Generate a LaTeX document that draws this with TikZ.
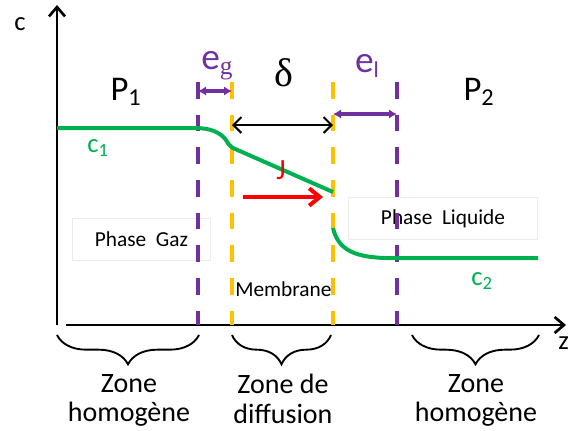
\documentclass[tikz,border=0pt]{standalone}
\usepackage{fontspec}
\setmainfont{Carlito}
\newfontfamily\serifgr{Liberation Serif}
\usetikzlibrary{arrows.meta,decorations.pathreplacing}
\definecolor{mbgreen}{HTML}{00B050}
\definecolor{mbpurple}{HTML}{7030A0}
\definecolor{mborange}{HTML}{FFC000}
\definecolor{mbred}{HTML}{FF0000}

\begin{document}
\begin{tikzpicture}[x=0.75pt, y=-0.75pt, line width=2pt,
  bigtxt/.style={font=\fontsize{20}{22.5}\selectfont},
  zonetxt/.style={font=\fontsize{21}{22}\selectfont, align=center, anchor=north, inner sep=0},
  smalltxt/.style={font=\fontsize{16}{19}\selectfont},
  thicktxt/.style={mbpurple, font=\fontsize{28}{30}\selectfont},
  bound/.style={line width=3pt, dash pattern=on 12.5pt off 12pt},
  film/.style={mbpurple, line width=2.8pt, {Latex[length=6pt, width=7pt]}-{Latex[length=6pt, width=7pt]}},
  zonebrace/.style={line width=1.4pt, decorate,
    decoration={brace, mirror, amplitude=22pt}},
  phasebox/.style={draw=black!8, line width=0.6pt, fill=white}]
  % pixel grid of the figure: x to the right, y downwards.
  % \xg, \xm, \xn, \xl are the four interfaces (gas film, membrane, membrane,
  % liquid film); \ytop is where their dashed lines start.
  \def\xg{198} \def\xm{232} \def\xn{333} \def\xl{397} \def\ytop{82}
  \useasboundingbox (0,0) rectangle (568,430);

  % phase labels sit under everything else
  \node[phasebox, minimum width=104pt, minimum height=32pt, smalltxt]
    (gaz) at (141.5,239.5) {Phase\ \ Gaz};
  \node[phasebox, minimum width=142pt, minimum height=32pt, smalltxt]
    (liq) at (443,218.5) {Phase\ \ Liquide};

  % axes
  \draw[-{Straight Barb[length=7pt, width=12pt]}] (57,325) -- (57,5);
  \draw[-{Straight Barb[length=7pt, width=12pt]}] (66,325) -- (566,325);
  \node[bigtxt] (cax) at (20,24) {c};
  \node[bigtxt, anchor=west, inner sep=0] (zax) at (557,343) {z};

  % interfaces
  \draw[bound, mbpurple] (\xg,\ytop) -- (\xg,325);
  \draw[bound, mborange] (\xm,\ytop) -- (\xm,325);
  \draw[bound, mborange] (\xn,\ytop) -- (\xn,325);
  \draw[bound, mbpurple] (\xl,\ytop) -- (\xl,325);

  % thicknesses
  \draw[film] (\xg,91) -- (\xm,91);
  \draw[{Straight Barb[length=6pt, width=12pt]}-{Straight Barb[length=6pt, width=12pt]}, line width=1.5pt]
    (\xm,125) -- (\xn,125);
  \draw[film] (\xn,114) -- (\xl,114);
  \node[thicktxt] (eg) at (217,66) {e\raisebox{-0.3ex}{\fontsize{19}{20}\serifgr g}};
  \node[font=\fontsize{30}{32}\serifgr] (dl) at (284,73) {δ};
  \node[thicktxt] (el) at (367,66) {e\raisebox{-0.3ex}{\fontsize{17}{20}\selectfont l}};
  \node[font=\fontsize{26}{28}\selectfont] (p1) at (126,92) {P\textsubscript{1}};
  \node[font=\fontsize{26}{28}\selectfont] (p2) at (479,92) {P\textsubscript{2}};

  % concentration profile
  \draw[mbgreen, line width=3pt] (57,128) -- (195,128)
    .. controls (210,128) and (220,132) .. (226,140)
    .. controls (229,145) .. (233,148) -- (\xn,192);
  \draw[mbgreen, line width=3pt] (\xn,228)
    .. controls (338,250) and (355,257) .. (385,258) -- (538,258);
  \node[bigtxt, mbgreen] (c1) at (98,148) {c\textsubscript{1}};
  \node[bigtxt, mbgreen] (c2) at (482,281) {c\textsubscript{2}};

  % flux
  \node[font=\fontsize{22}{24}\selectfont, mbred] (jj) at (281,170) {J};
  \draw[mbred, line width=3pt, -{Straight Barb[length=8pt, width=13pt]}]
    (243,197) -- (323,197);
  \node[smalltxt, anchor=west, inner sep=0] (mem) at (234,289) {Membrane};

  % zones
  \draw[zonebrace] (57,335) -- (199,335);
  \draw[zonebrace] (232,335) -- (331,335);
  \draw[zonebrace] (412,335) -- (539,335);
  \node[zonetxt] (z1) at (129,373) {Zone\\homogène};
  \node[zonetxt] (z2) at (283,373) {Zone de\\diffusion};
  \node[zonetxt] (z3) at (476,373) {Zone\\homogène};
\end{tikzpicture}
\end{document}
